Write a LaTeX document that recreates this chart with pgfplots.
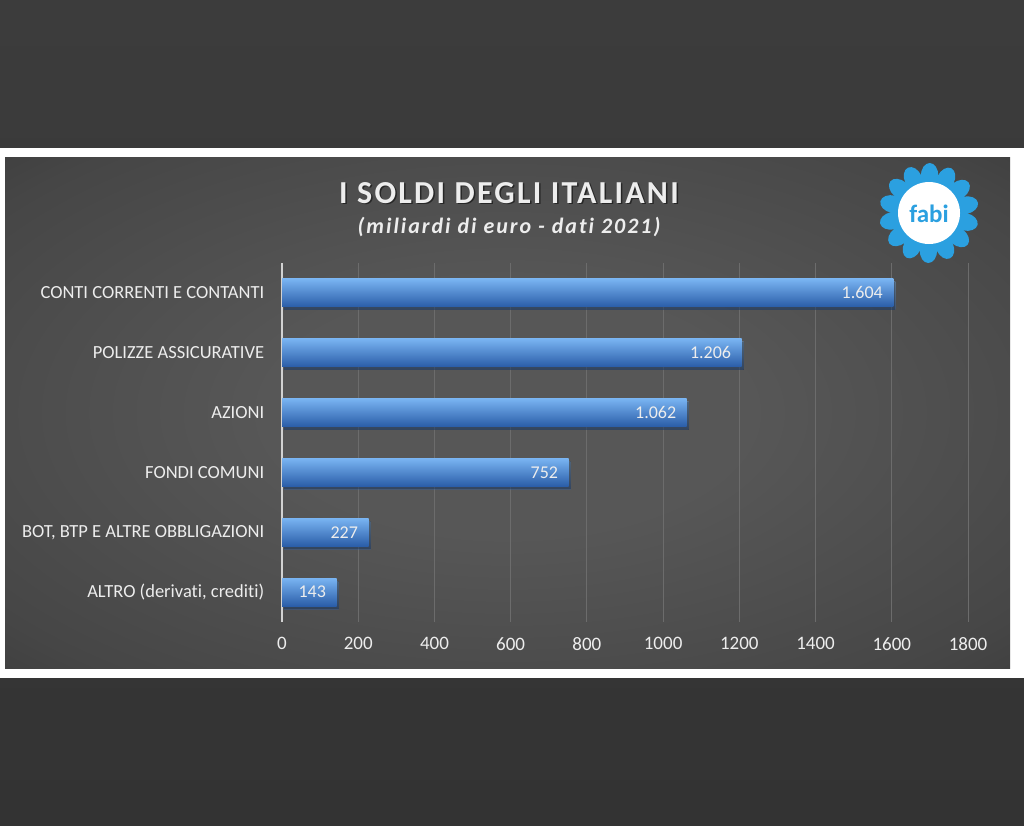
\documentclass[border=0pt]{standalone}
\usepackage{fontspec}
\setmainfont{Carlito}[Ligatures=NoCommon]
\usepackage{pgfplots}
\pgfplotsset{compat=1.18}
\definecolor{outtop}{HTML}{3C3C3C}
\definecolor{outbot}{HTML}{333333}
\definecolor{panin}{HTML}{575757}
\definecolor{panmid}{HTML}{464646}
\definecolor{panout}{HTML}{2B2B2B}
\definecolor{barlight}{HTML}{79B4F2}
\definecolor{barmid}{HTML}{4281D4}
\definecolor{bardark}{HTML}{2A5DA8}
\definecolor{gridc}{HTML}{6C6C6C}
\definecolor{txt}{HTML}{EDEDED}
\definecolor{logob}{HTML}{2BA0E0}
\pgfdeclareradialshading{panelshade}{\pgfpoint{0bp}{0bp}}{color(0bp)=(panin); color(12bp)=(panin); color(32bp)=(panmid); color(50bp)=(panout); color(70bp)=(panout)}
\pgfplotsset{mybar/.style={draw=none,top color=barlight,middle color=barmid,bottom color=bardark,bar shift=0pt,
  preaction={fill=black,opacity=0.35,transform canvas={xshift=2pt,yshift=-3pt}}}}
\begin{document}
\begin{tikzpicture}[x=1pt,y=1pt]
\fill[top color=outtop,bottom color=outbot] (0pt,0pt) rectangle (1024pt,-825pt);
\fill[white] (0pt,-148pt) rectangle (1024pt,-678pt);
\shade[shading=panelshade] (5pt,-157pt) rectangle (1010pt,-668pt);
\node[text=black,opacity=0.5,font=\bfseries\fontsize{32}{36}\selectfont\addfontfeatures{LetterSpace=7}] at (510.5pt,-194.5pt) {I SOLDI DEGLI ITALIANI};
\node[text=txt,font=\bfseries\fontsize{32}{36}\selectfont\addfontfeatures{LetterSpace=7}] at (509pt,-193pt) {I SOLDI DEGLI ITALIANI};
\node[text=txt,font=\bfseries\itshape\fontsize{22}{26}\selectfont\addfontfeatures{LetterSpace=9}] at (509pt,-227pt) {(miliardi di euro - dati 2021)};
% logo
\foreach \a in {0,25.714,...,359} {\fill[logob,shift={(929pt,-213pt)},rotate=\a+12] (37pt,0pt) ellipse (13pt and 8.8pt);}
\fill[white] (929pt,-213pt) circle (31pt);
\node[text=logob,font=\bfseries\fontsize{25}{27}\selectfont] at (929pt,-214pt) {fabi};
\begin{axis}[at={(282pt,-622pt)},anchor=south west,scale only axis,
  width=686pt,height=359pt,
  xmin=0,xmax=1800,ymin=-0.5,ymax=5.5,
  xbar,bar width=28pt,
  axis line style={draw=none},
  tick style={draw=none},
  xtick={0,200,...,1800},
  xmajorgrids,
  grid style={gridc,line width=0.9pt},
  extra x ticks={0},
  extra x tick labels={},
  extra x tick style={grid style={color=white!65!gray,line width=1.4pt}},
  ytick={0,...,5},
  yticklabels={{ALTRO (derivati, crediti)},{BOT, BTP E ALTRE OBBLIGAZIONI},{FONDI COMUNI},{AZIONI},{POLIZZE ASSICURATIVE},{CONTI CORRENTI E CONTANTI}},
  yticklabel style={text=txt,font=\fontsize{18.5}{20}\selectfont,xshift=-10pt},
  xticklabel style={text=txt,font=\fontsize{19}{21}\selectfont,yshift=-12pt},
  /pgf/number format/assume math mode=true,
  scaled x ticks=false,
  xticklabel={\pgfmathprintnumber[1000 sep={}]{\tick}},
  point meta=explicit symbolic,
  nodes near coords,
  every node near coord/.append style={anchor=east,text=txt,font=\fontsize{18}{20}\selectfont,xshift=-7pt},
]
\addplot[mybar] coordinates {(143,0) [143]};
\addplot[mybar] coordinates {(227,1) [227]};
\addplot[mybar] coordinates {(752,2) [752]};
\addplot[mybar] coordinates {(1062,3) [1.062]};
\addplot[mybar] coordinates {(1206,4) [1.206]};
\addplot[mybar] coordinates {(1604,5) [1.604]};
\end{axis}
\end{tikzpicture}
\end{document}
